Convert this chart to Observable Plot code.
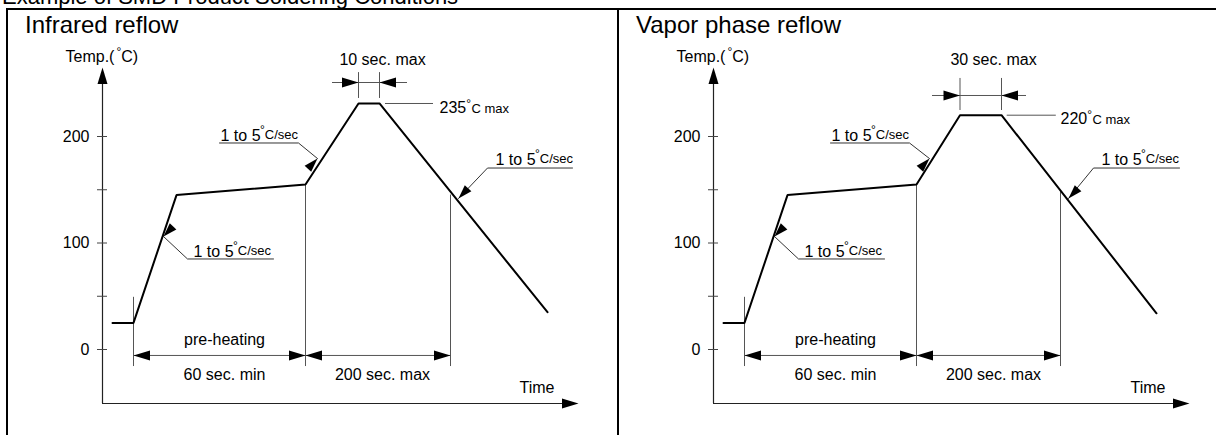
<!DOCTYPE html>
<html><head><meta charset="utf-8">
<script src="https://cdn.jsdelivr.net/npm/d3@7"></script>
<script src="https://cdn.jsdelivr.net/npm/@observablehq/plot@0.6"></script>
<style>
html,body{margin:0;padding:0;background:#fff;}
body{width:1216px;height:435px;position:relative;overflow:hidden;font-family:"Liberation Sans",Arial,Helvetica,sans-serif;color:#000;}
.abs{position:absolute;}
.bar{position:absolute;background:#000;}
.title{position:absolute;white-space:nowrap;font-size:24px;line-height:23px;}
</style></head><body>
<div class="title" style="left:2px;top:-14px;font-size:22px;line-height:22px">Example of SMD Product Soldering Conditions</div>
<div class="bar" style="left:6px;top:8px;width:1210px;height:2px"></div>
<div class="bar" style="left:6px;top:8px;width:2px;height:427px"></div>
<div class="bar" style="left:617px;top:8px;width:2px;height:427px"></div>
<div class="abs" id="p0" style="left:0;top:0"></div>
<div class="abs" id="p1" style="left:611px;top:0"></div>
<script>
const FONT = '"Liberation Sans", Arial, Helvetica, sans-serif';

// ---- data (schematic time units, not to scale; temperature in °C)
const panelTitles = ["Infrared reflow", "Vapor phase reflow"];
const irTime = [10, 31, 74, 203, 256, 277, 445];
const irTemp = [25, 25, 145, 155, 231, 231, 35];
const vpTime = [10, 31, 74, 203, 246.5, 288, 443];
const vpTemp = [25, 25, 145, 155, 220, 220, 34];
const yTickValues = [0, 50, 100, 150, 200];
const yTickLabels = [0, 100, 200];
const yAxisLabelParts = ["Temp.(", "°", "C)"];
const xAxisLabel = "Time";
const peakWidthLabels = ["10 sec. max", "30 sec. max"];
const peakTempLabels = ["235", "220"];
const peakTempUnitParts = ["°", "C max"];
const rateParts = ["1 to 5", "°", "C/sec"];
const phaseLabels = ["pre-heating", "60 sec. min", "200 sec. max"];

// ---- annotation placements (same units)
const axisFloor = -50.7, yArrowTip = 264.8, xArrowTip = 476;
const yLabelAt = {t: -37, v: 269.5};
const xLabelAt = {t: 452, v: -40.4};
const rateNotesByPanel = [
  [
    {id: "a", tx: 91,  ty: 87.3,  far: 171, knee: 85,  uv: 85.0,  tipT: 61,  tipV: 106.1},
    {id: "b", tx: 118, ty: 196.2, far: 117, knee: 196, uv: 193.9, tipT: 215, tipV: 179.3},
    {id: "c", tx: 393, ty: 172.8, far: 470, knee: 385, uv: 170.4, tipT: 356, tipV: 141.8}
  ],
  [
    {id: "a", tx: 91,  ty: 87.3,  far: 171, knee: 85,  uv: 85.0,  tipT: 61,  tipV: 106.1},
    {id: "b", tx: 118, ty: 196.2, far: 117, knee: 196, uv: 193.9, tipT: 216, tipV: 179.3},
    {id: "c", tx: 388, ty: 172.8, far: 466, knee: 380, uv: 170.4, tipT: 355, tipV: 141.8}
  ]
];
const peakDims = [
  {t1: 230, t2: 305, v: 250.7, extTop: 260,   extBot: 235.7, leadFrom: 283,   leadTo: 331,   labelT: 337, labelV: 221.6},
  {t1: 219, t2: 313, v: 238.5, extTop: 254.5, extBot: 224.4, leadFrom: 293.7, leadTo: 342.8, labelT: 347, labelV: 211.3}
];
const peakLabelT = 280, peakLabelV = 266.7;
const dimLevel = -5.6, extBottom = -16, preStartTop = 49;
const phaseEnds = [{t: 348, top: 145}, {t: 347, top: 148}];
const phaseTextT = [122, 122, 280];
const phaseTextV = [3.8, -29.1, -29.1];

// ---- scales
const X_DOMAIN = [0, 500], X_RANGE = [102, 602];
const Y_DOMAIN = [0, 200], Y_RANGE = [349, 136];
const xs = d3.scaleLinear(X_DOMAIN, X_RANGE), ys = d3.scaleLinear(Y_DOMAIN, Y_RANGE);
const angle = (t0, v0, t1, v1) => Math.atan2(xs(t1) - xs(t0), -(ys(t1) - ys(t0))) * 180 / Math.PI;

const cx = document.createElement("canvas").getContext("2d");
const tw = (s, size) => { cx.font = `${size}px ${FONT}`; return cx.measureText(s).width; };

// arrowhead symbols: tip at origin, pointing up
const headBig = {draw(c) { c.moveTo(0, 0); c.lineTo(5, 16.5); c.lineTo(-5, 16.5); c.closePath(); }};
const headSmall = {draw(c) { c.moveTo(0, 0); c.lineTo(4.5, 14); c.lineTo(-4.5, 14); c.closePath(); }};

function panel(i) {
  const time = i ? vpTime : irTime, temp = i ? vpTemp : irTemp;
  const rateNotes = rateNotesByPanel[i];
  const profile = time.map((t, k) => ({t, v: temp[k]}));
  const pk = peakDims[i], pe = phaseEnds[i];
  const flat0 = time[4], flat1 = time[5], flatV = temp[4];
  const preStart = time[1], preEnd = time[3];

  const axisHeads = [{t: 0, v: yArrowTip, r: 0}, {t: xArrowTip, v: axisFloor, r: 90}];
  const extLines = [
    {t: preStart, v1: preStartTop, v2: extBottom},
    {t: preEnd, v1: temp[3], v2: extBottom},
    {t: pe.t, v1: pe.top, v2: extBottom},
    {t: flat0, v1: pk.extBot, v2: pk.extTop},
    {t: flat1, v1: pk.extBot, v2: pk.extTop}
  ];
  const dimLines = [
    {v: dimLevel, t1: preStart, t2: preEnd},
    {v: dimLevel, t1: preEnd, t2: pe.t},
    {v: pk.v, t1: pk.t1, t2: pk.t2}
  ];
  const dimHeads = [
    {t: preStart, v: dimLevel, r: 270}, {t: preEnd, v: dimLevel, r: 90},
    {t: preEnd, v: dimLevel, r: 270}, {t: pe.t, v: dimLevel, r: 90},
    {t: flat0, v: pk.v, r: 90}, {t: flat1, v: pk.v, r: 270}
  ];
  const leaderPts = rateNotes.flatMap(n => [
    {id: n.id, t: n.far, v: n.uv}, {id: n.id, t: n.knee, v: n.uv}, {id: n.id, t: n.tipT, v: n.tipV}
  ]);
  const leaderHeads = rateNotes.map(n => ({t: n.tipT, v: n.tipV, r: angle(n.knee, n.uv, n.tipT, n.tipV)}));

  const w5 = tw(rateParts[0], 16);
  const wDeg = tw("°", 12);
  const wTemp = tw(yAxisLabelParts[0], 16);
  const wPk = tw(peakTempLabels[i], 16);
  const phase = phaseLabels.map((s, k) => ({s, t: phaseTextT[k], v: phaseTextV[k]}));

  return Plot.plot({
    width: i ? 605 : 611, height: 435,
    marginLeft: 102, marginRight: 0, marginTop: 0, marginBottom: 0,
    x: {domain: X_DOMAIN, range: X_RANGE, axis: null},
    y: {domain: Y_DOMAIN, range: Y_RANGE},
    style: {fontFamily: FONT, fontSize: "16px", background: "transparent", color: "#000", overflow: "visible"},
    marks: [
      // axes
      Plot.ruleX([0], {y1: axisFloor, y2: yArrowTip - 15, stroke: "#222", strokeWidth: 1.2}),
      Plot.ruleY([axisFloor], {x1: 0, x2: xArrowTip - 14, stroke: "#222", strokeWidth: 1.2}),
      Plot.axisY({ticks: yTickValues, tickSize: 10, dx: 5, tickPadding: 8, label: null,
        tickFormat: d => yTickLabels.includes(d) ? String(d) : "", fontSize: 16, stroke: "#444", fill: "#000"}),
      Plot.dot(axisHeads, {x: "t", y: "v", rotate: "r", symbol: headBig, fill: "#000", stroke: "none"}),
      // extension & dimension lines
      Plot.ruleX(extLines, {x: "t", y1: "v1", y2: "v2", stroke: "#555", strokeWidth: 1}),
      Plot.ruleY(dimLines, {y: "v", x1: "t1", x2: "t2", stroke: "#555", strokeWidth: 1}),
      Plot.ruleY([flatV], {x1: pk.leadFrom, x2: pk.leadTo, stroke: "#555", strokeWidth: 1}),
      // leaders
      Plot.line(leaderPts, {x: "t", y: "v", z: "id", stroke: "#333", strokeWidth: 1}),
      // profile
      Plot.line(profile, {x: "t", y: "v", stroke: "#000", strokeWidth: 2, strokeLinejoin: "miter"}),
      // arrowheads
      Plot.dot(dimHeads, {x: "t", y: "v", rotate: "r", symbol: headBig, fill: "#000", stroke: "none"}),
      Plot.dot(leaderHeads, {x: "t", y: "v", rotate: "r", symbol: headSmall, fill: "#000", stroke: "none"}),
      // texts
      Plot.text([yLabelAt], {x: "t", y: "v", text: () => yAxisLabelParts[0], textAnchor: "start", lineAnchor: "bottom", fontSize: 16}),
      Plot.text([yLabelAt], {x: "t", y: "v", text: () => yAxisLabelParts[1], textAnchor: "start", lineAnchor: "bottom", fontSize: 12, dx: wTemp + 2, dy: -6}),
      Plot.text([yLabelAt], {x: "t", y: "v", text: () => yAxisLabelParts[2], textAnchor: "start", lineAnchor: "bottom", fontSize: 16, dx: wTemp + 2 + wDeg}),
      Plot.text([xLabelAt], {x: "t", y: "v", text: () => xAxisLabel, textAnchor: "end", lineAnchor: "bottom", fontSize: 16}),
      Plot.text(phase, {x: "t", y: "v", text: "s", textAnchor: "middle", lineAnchor: "bottom", fontSize: 16}),
      Plot.text([pk], {x: () => peakLabelT, y: () => peakLabelV, text: () => peakWidthLabels[i], textAnchor: "middle", lineAnchor: "bottom", fontSize: 16}),
      Plot.text([pk], {x: "labelT", y: "labelV", text: () => peakTempLabels[i], textAnchor: "start", lineAnchor: "bottom", fontSize: 16}),
      Plot.text([pk], {x: "labelT", y: "labelV", text: () => peakTempUnitParts[0], textAnchor: "start", lineAnchor: "bottom", fontSize: 12, dx: wPk, dy: -5}),
      Plot.text([pk], {x: "labelT", y: "labelV", text: () => peakTempUnitParts[1], textAnchor: "start", lineAnchor: "bottom", fontSize: 13, dx: wPk + wDeg + 0.5}),
      Plot.text(rateNotes, {x: "tx", y: "ty", text: () => rateParts[0], textAnchor: "start", lineAnchor: "bottom", fontSize: 16}),
      Plot.text(rateNotes, {x: "tx", y: "ty", text: () => rateParts[1], textAnchor: "start", lineAnchor: "bottom", fontSize: 12, dx: w5 - 0.5, dy: -7}),
      Plot.text(rateNotes, {x: "tx", y: "ty", text: () => rateParts[2], textAnchor: "start", lineAnchor: "bottom", fontSize: 13, dx: w5 - 0.5 + wDeg, dy: -2})
    ]
  });
}

[0, 1].forEach(i => {
  const host = document.getElementById("p" + i);
  host.appendChild(panel(i));
  const t = document.createElement("div");
  t.className = "title";
  t.style.left = "25px";
  t.style.top = "13px";
  t.textContent = panelTitles[i];
  host.appendChild(t);
});
</script>
</body></html>
